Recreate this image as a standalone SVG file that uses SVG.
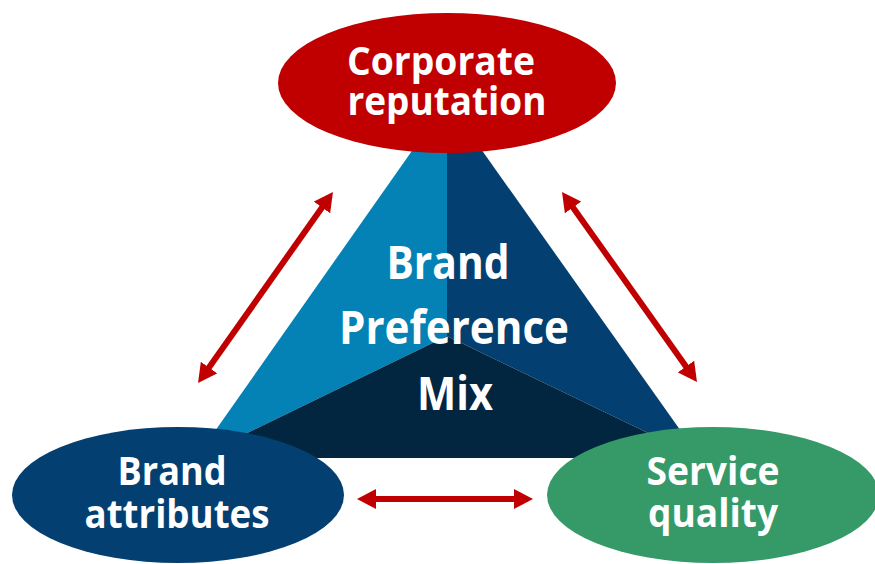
<svg xmlns="http://www.w3.org/2000/svg" width="875" height="564" viewBox="0 0 875 564">
<style>
.t{font-family:"Open Sans","Noto Sans","DejaVu Sans",sans-serif;font-weight:bold;fill:#FFFFFF;text-anchor:middle}
.c{font-size:46px}
.n{font-size:40px}
.arr{stroke:#C00000;stroke-width:6;fill:none;marker-start:url(#ah);marker-end:url(#ah)}
</style>
<defs>
<marker id="ah" viewBox="0 0 19 20" markerWidth="19" markerHeight="20" refX="4" refY="10" markerUnits="userSpaceOnUse" orient="auto-start-reverse">
<path d="M0,0 L19,10 L0,20 z" fill="#C00000"/>
</marker>
</defs>
<rect width="875" height="564" fill="#FFFFFF"/>
<g id="pyramid">
<polygon points="447,101 196,458 447,336" fill="#0481B5"/>
<polygon points="447,101 700,458 447,336" fill="#033F70"/>
<polygon points="196,458 447,336 700,458" fill="#022540"/>
<text class="t c" x="448" y="279" textLength="123" lengthAdjust="spacingAndGlyphs">Brand</text>
<text class="t c" x="454" y="344" textLength="230" lengthAdjust="spacingAndGlyphs">Preference</text>
<text class="t c" x="455" y="410" textLength="76" lengthAdjust="spacingAndGlyphs">Mix</text>
</g>
<g id="connectors">
<line class="arr" x1="206.7" y1="370.8" x2="324.3" y2="204.2"/>
<line class="arr" x1="570.7" y1="204.2" x2="688.3" y2="369.8"/>
<line class="arr" x1="372" y1="499" x2="518" y2="499"/>
</g>
<g id="corporate-reputation">
<ellipse cx="447" cy="83" rx="169" ry="70" fill="#C00000"/>
<text class="t n" x="441" y="75" textLength="188" lengthAdjust="spacingAndGlyphs">Corporate</text>
<text class="t n" x="447" y="115" textLength="199" lengthAdjust="spacingAndGlyphs">reputation</text>
</g>
<g id="brand-attributes">
<ellipse cx="178" cy="495" rx="166" ry="68" fill="#033F70"/>
<text class="t n" x="172" y="485" textLength="109" lengthAdjust="spacingAndGlyphs">Brand</text>
<text class="t n" x="177" y="528" textLength="185" lengthAdjust="spacingAndGlyphs">attributes</text>
</g>
<g id="service-quality">
<ellipse cx="713" cy="495" rx="166" ry="68" fill="#359A68"/>
<text class="t n" x="713" y="485" textLength="133" lengthAdjust="spacingAndGlyphs">Service</text>
<text class="t n" x="713" y="527" textLength="130" lengthAdjust="spacingAndGlyphs">quality</text>
</g>
</svg>
